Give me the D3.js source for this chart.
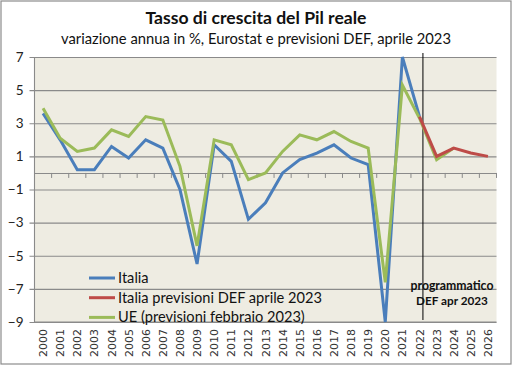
<!DOCTYPE html>
<html><head><meta charset="utf-8">
<script src="https://cdn.jsdelivr.net/npm/d3@7"></script>
<style>body{margin:0;background:#fff}svg{display:block}</style>
</head><body><svg id="c" width="513" height="366"></svg>
<script>
const years = ["2000","2001","2002","2003","2004","2005","2006","2007","2008","2009","2010","2011","2012","2013","2014","2015","2016","2017","2018","2019","2020","2021","2022","2023","2024","2025","2026"];
const italia = [3.6,2.0,0.2,0.2,1.6,0.9,2.0,1.5,-1.0,-5.5,1.7,0.7,-2.8,-1.8,0.0,0.8,1.2,1.7,0.9,0.5,-9.0,7.0,3.4,null,null,null,null];
const italiaDEF = [null,null,null,null,null,null,null,null,null,null,null,null,null,null,null,null,null,null,null,null,null,null,3.4,1.0,1.5,1.2,1.0];
const ue = [3.9,2.1,1.3,1.5,2.6,2.2,3.4,3.2,0.4,-4.4,2.0,1.7,-0.4,0.0,1.3,2.3,2.0,2.5,1.9,1.5,-6.6,5.3,3.3,0.8,1.5,null,null];
const yTicks = [7,5,3,1,-1,-3,-5,-7,-9];
const seriesNames = ["Italia","Italia previsioni DEF aprile 2023","UE (previsioni febbraio 2023)"];
const title = "Tasso di crescita del Pil reale";
const subtitle = "variazione annua in %, Eurostat e previsioni DEF, aprile 2023";
const noteLines = ["programmatico","DEF apr 2023"];

const svg = d3.select("#c");
const font = "Lato, 'Open Sans', sans-serif";
const font2 = "'DejaVu Sans', Verdana, sans-serif";
const L = 34.5, R = 496.5, T = 57, B = 322;

function fit(sel, w){
  const n = sel.node(); const fs = parseFloat(sel.attr("font-size"));
  const cur = n.getComputedTextLength();
  if (cur > 0) sel.attr("font-size", fs * w / cur);
  return sel;
}

svg.append("rect").attr("x",1).attr("y",1).attr("width",510).attr("height",363)
  .attr("fill","#fff").attr("stroke","#8c8c8c").attr("stroke-width",1.2);

const x = d3.scaleBand().domain(years).range([L,R]);
const cx = d => x(d) + x.bandwidth()/2;
const y = d3.scaleLinear().domain([-9,7]).range([B,T]);

svg.append("rect").attr("x",L).attr("y",T).attr("width",R-L).attr("height",B-T).attr("fill","#eeece2");

// grid
const gy = svg.append("g").attr("transform",`translate(${L},0)`)
  .call(d3.axisLeft(y).tickValues(yTicks).tickSize(-(R-L)).tickSizeOuter(0).tickPadding(11).tickFormat(d3.format("d")));
gy.select(".domain").remove();
gy.selectAll(".tick line").attr("stroke","#8a8a8a").attr("stroke-width",1.1).attr("x1",-5);
gy.selectAll(".tick text").attr("font-family",font).attr("font-size",13.5).attr("fill","#222");
svg.append("line").attr("x1",L).attr("x2",L).attr("y1",T).attr("y2",B).attr("stroke","#8a8a8a").attr("stroke-width",1.1);
svg.append("line").attr("x1",L).attr("x2",R).attr("y1",B).attr("y2",B).attr("stroke","#8a8a8a").attr("stroke-width",1.1);

// zero axis with ticks at category boundaries
const gx = svg.append("g").attr("transform",`translate(0,${y(0)})`)
  .call(d3.axisBottom(x).tickSize(0).tickFormat(""));
gx.select(".domain").attr("stroke","#8a8a8a").attr("stroke-width",1.1);
gx.selectAll(".tick").remove();
years.forEach((yr,i)=>{ if(i>0) gx.append("line").attr("x1",x(yr)).attr("x2",x(yr)).attr("y1",0).attr("y2",5).attr("stroke","#8a8a8a"); });
gx.append("line").attr("x1",R).attr("x2",R).attr("y1",0).attr("y2",5).attr("stroke","#8a8a8a");

// year labels at bottom
svg.append("g").selectAll("text").data(years).join("text")
  .attr("transform",d=>`translate(${cx(d)+4},329) rotate(-90)`)
  .attr("text-anchor","end").attr("font-family",font2).attr("font-size",11).attr("fill","#333").text(d=>d);

// vertical marker line
const vx = cx("2022") + x.bandwidth()*0.2;
svg.append("line").attr("x1",vx).attr("x2",vx).attr("y1",53).attr("y2",320).attr("stroke","#000").attr("stroke-width",1);

const line = d3.line().defined(d=>d[1]!==null).x(d=>cx(d[0])).y(d=>y(d[1]));
const series = [
  {vals:italia,color:"#4a7ebb"},
  {vals:ue,color:"#9bbb59"},
  {vals:italiaDEF,color:"#be4b48"}
];
series.forEach(s=>{
  svg.append("path").datum(years.map((yr,i)=>[yr,s.vals[i]])).attr("d",line)
    .attr("fill","none").attr("stroke",s.color).attr("stroke-width",3).attr("stroke-linejoin","miter");
});

// note
const noteW = [83, 72];
noteLines.forEach((t,i)=>{
  fit(svg.append("text").attr("x",452).attr("y",290+i*15).attr("text-anchor","middle")
    .attr("font-family",font).attr("font-weight","bold").attr("font-size",12).attr("fill","#111").text(t), noteW[i]);
});

// legend
const legColors = ["#4a7ebb","#be4b48","#9bbb59"];
const lg = svg.append("g");
let legFs = 14;
seriesNames.forEach((n,i)=>{
  const ly = 278 + i*19.7;
  lg.append("line").attr("x1",89).attr("x2",115).attr("y1",ly).attr("y2",ly).attr("stroke",legColors[i]).attr("stroke-width",3);
  const t = lg.append("text").attr("x",118).attr("y",ly+5).attr("font-family",font).attr("font-size",legFs).attr("fill","#111").text(n);
  if (i===1) { fit(t,204); legFs = parseFloat(t.attr("font-size")); lg.selectAll("text").attr("font-size",legFs); }
  else t.attr("font-size",legFs);
});

// titles
fit(svg.append("text").attr("x",256).attr("y",24).attr("text-anchor","middle").attr("font-family",font)
  .attr("font-weight","bold").attr("font-size",18).attr("fill","#111").text(title), 221);
fit(svg.append("text").attr("x",256).attr("y",44).attr("text-anchor","middle").attr("font-family",font)
  .attr("font-size",14).attr("fill","#111").text(subtitle), 390);
</script></body></html>
